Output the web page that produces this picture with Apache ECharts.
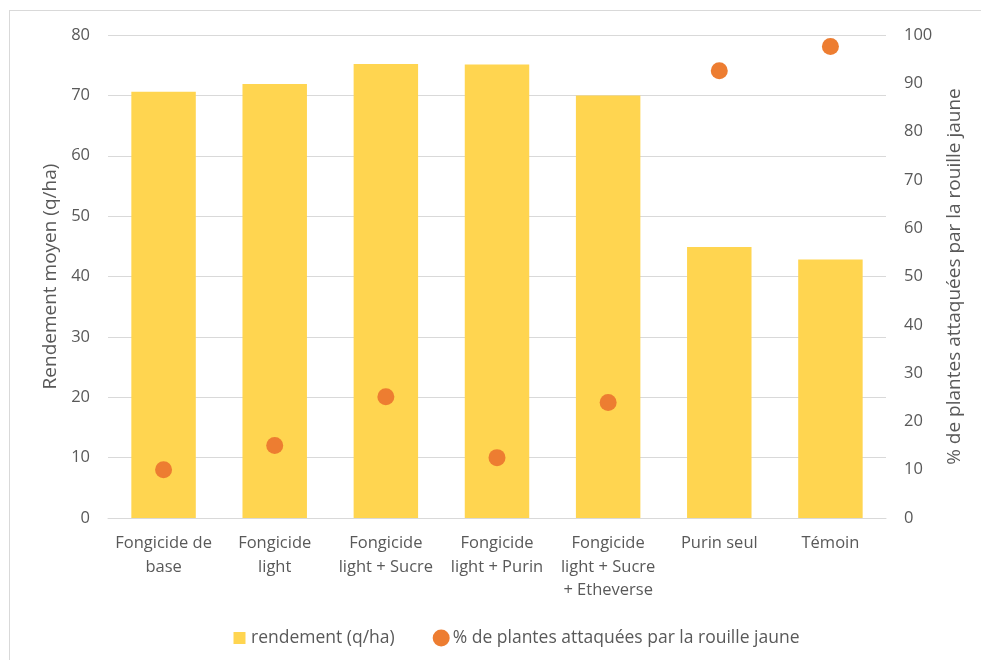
<!DOCTYPE html>
<html>
<head>
<meta charset="utf-8">
<script src="https://cdn.jsdelivr.net/npm/echarts@6/dist/echarts.min.js"></script>
<style>
  html, body { margin: 0; padding: 0; background: #fff; }
  #frame { position: absolute; left: 9px; top: 10px; width: 990px; height: 670px; border: 1px solid #d9d9d9; box-sizing: border-box; }
  #chart { width: 981px; height: 660px; position: absolute; left: 0; top: 0; }
</style>
</head>
<body>
<div id="frame"></div>
<div id="chart"></div>
<script>
const categories = ['Fongicide de\nbase', 'Fongicide\nlight', 'Fongicide\nlight + Sucre', 'Fongicide\nlight + Purin', 'Fongicide\nlight + Sucre\n+ Etheverse', 'Purin seul', 'Témoin'];
const rendement = [70.6, 71.9, 75.2, 75.1, 70.0, 44.9, 42.8];
const rouille = [10.0, 15.0, 25.1, 12.5, 23.9, 92.6, 97.6];
const leftTicks = { min: 0, max: 80, interval: 10 };
const rightTicks = { min: 0, max: 100, interval: 10 };

const font = 'Open Sans, Liberation Sans, sans-serif';
const txt = '#595959';

const myChart = echarts.init(document.getElementById('chart'));
const option = {
  animation: false,
  textStyle: { fontFamily: font },
  grid: { left: 108, right: 95, top: 35, bottom: 142 },
  legend: {
    bottom: 8,
    left: 226,
    itemGap: 38,
    itemWidth: 17,
    itemHeight: 17,
    textStyle: { color: txt, fontSize: 17.5, fontFamily: font, padding: [0, 0, 0, -2] },
    data: [
      // small square inside a 17x17 box (the moveTo points fix the bounds)
      { name: 'rendement (q/ha)', icon: 'path://M0,0M17,17M2.5,2.5L14.5,2.5L14.5,14.5L2.5,14.5Z' },
      { name: '% de plantes attaquées par la rouille jaune', icon: 'circle' }
    ]
  },
  xAxis: {
    type: 'category',
    data: categories,
    axisTick: { show: false },
    axisLine: { lineStyle: { color: '#d9d9d9' } },
    axisLabel: { color: txt, fontSize: 16.5, lineHeight: 23.5, margin: 14, interval: 0, fontFamily: font }
  },
  yAxis: [
    {
      type: 'value',
      min: leftTicks.min, max: leftTicks.max, interval: leftTicks.interval,
      name: 'Rendement moyen (q/ha)',
      nameLocation: 'middle',
      nameGap: 48,
      nameTextStyle: { color: txt, fontSize: 19, fontFamily: font },
      axisLabel: { color: txt, fontSize: 16.5, margin: 18, fontFamily: font },
      splitLine: { lineStyle: { color: '#d9d9d9', width: 1 } },
      axisLine: { show: false },
      axisTick: { show: false }
    },
    {
      type: 'value',
      min: rightTicks.min, max: rightTicks.max, interval: rightTicks.interval,
      name: '% de plantes attaquées par la rouille jaune',
      nameLocation: 'middle',
      nameGap: 59,
      nameRotate: 90,
      nameTextStyle: { color: txt, fontSize: 19, fontFamily: font },
      axisLabel: { color: txt, fontSize: 16.5, margin: 18, fontFamily: font },
      splitLine: { show: false },
      axisLine: { show: false },
      axisTick: { show: false }
    }
  ],
  series: [
    {
      name: 'rendement (q/ha)',
      type: 'bar',
      data: rendement,
      barWidth: '58%',
      itemStyle: { color: '#ffd550' }
    },
    {
      name: '% de plantes attaquées par la rouille jaune',
      type: 'scatter',
      yAxisIndex: 1,
      data: rouille,
      symbol: 'circle',
      symbolSize: 17,
      itemStyle: { color: '#ed7d31', opacity: 1 }
    }
  ]
};
option && myChart.setOption(option);
</script>
</body>
</html>
